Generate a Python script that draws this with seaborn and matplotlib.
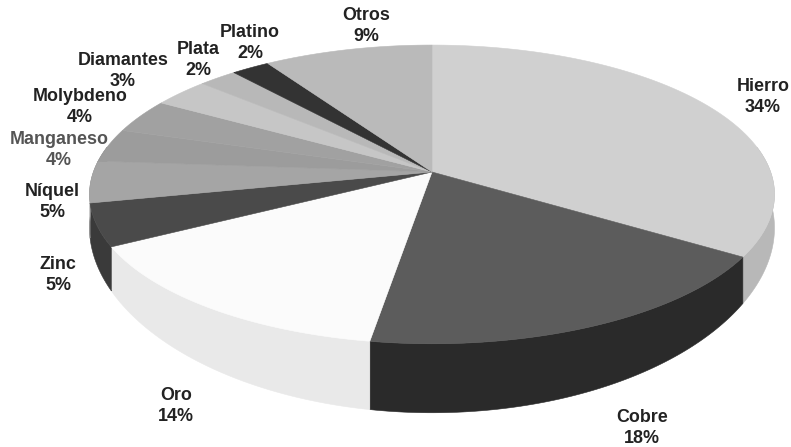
import numpy as np
import matplotlib
matplotlib.use("Agg")
import matplotlib.pyplot as plt
import seaborn as sns

labels = ["Hierro", "Cobre", "Oro", "Zinc", "Níquel", "Manganeso",
          "Molybdeno", "Diamantes", "Plata", "Platino", "Otros"]
values = [34, 18, 14, 5, 5, 4, 4, 3, 2, 2, 9]
# shares as actually drawn in the picture (read from the rim, differ a little from the printed %)
drawn_shares = [34, 18.5, 14.6, 4.6, 4.5, 3.6, 3.7, 3.1, 2.1, 2.1, 9.2]

top_colors = ["#d0d0d0", "#5c5c5c", "#fbfbfb", "#4a4a4a", "#a5a5a5", "#9c9c9c",
              "#a1a1a1", "#c6c6c6", "#b8b8b8", "#333333", "#bababa"]
wall_colors = ["#b8b8b8", "#2a2a2a", "#e9e9e9", "#3a3a3a", "#8a8a8a", "#808080",
               "#888888", "#a8a8a8", "#999999", "#222222", "#9a9a9a"]
label_colors = ["#222222", "#222222", "#222222", "#222222", "#222222", "#555555",
                "#222222", "#222222", "#222222", "#222222", "#222222"]
label_xy = [(763, 97), (642, 428), (176, 406), (58, 275), (52, 202), (59, 150),
            (80, 107), (123, 71), (198, 60), (250, 43), (366, 26)]

# projection of the tilted disc onto the page
CX, CY, A, B, K = 432, 172, 338.6, 146, 0.15


def project(theta):
    u, v = np.sin(theta), np.cos(theta)
    den = 1 + K * v
    return CX + A * u / den, CY - B * v / den


def depth(theta):
    w = np.clip(-np.cos(theta), -0.2, 1)
    return 30 + 21 * w + 18 * w ** 2


sns.set_theme(style="white")
plt.rcParams["font.family"] = ["Liberation Sans", "DejaVu Sans"]
fig, ax = plt.subplots(figsize=(7.91, 4.47), dpi=100)
ax.set_position([0, 0, 1, 1])
ax.set_xlim(0, 791)
ax.set_ylim(447, 0)
ax.axis("off")

edges = np.cumsum([0] + drawn_shares) / sum(drawn_shares) * 2 * np.pi
front_lo, front_hi = np.deg2rad(80), np.deg2rad(280)

for start, end, wall in zip(edges[:-1], edges[1:], wall_colors):
    lo, hi = max(start, front_lo), min(end, front_hi)
    if lo < hi:
        t = np.linspace(lo, hi, 80)
        x, y = project(t)
        xs = np.r_[x, x[::-1]]
        ys = np.r_[y, (y + depth(t))[::-1]]
        ax.fill(xs, ys, color=wall, lw=0.4, zorder=2)

for start, end, top in zip(edges[:-1], edges[1:], top_colors):
    t = np.linspace(start, end, 120)
    x, y = project(t)
    ax.fill(np.r_[CX, x], np.r_[CY, y], color=top, lw=0.4, zorder=3)

for name, val, (lx, ly), col in zip(labels, values, label_xy, label_colors):
    ax.text(lx, ly, f"{name}\n{val}%", ha="center", va="center", fontsize=12.9,
            fontweight="bold", color=col, linespacing=1.3, zorder=4)

fig.savefig("out.png", dpi=100, facecolor="white")
